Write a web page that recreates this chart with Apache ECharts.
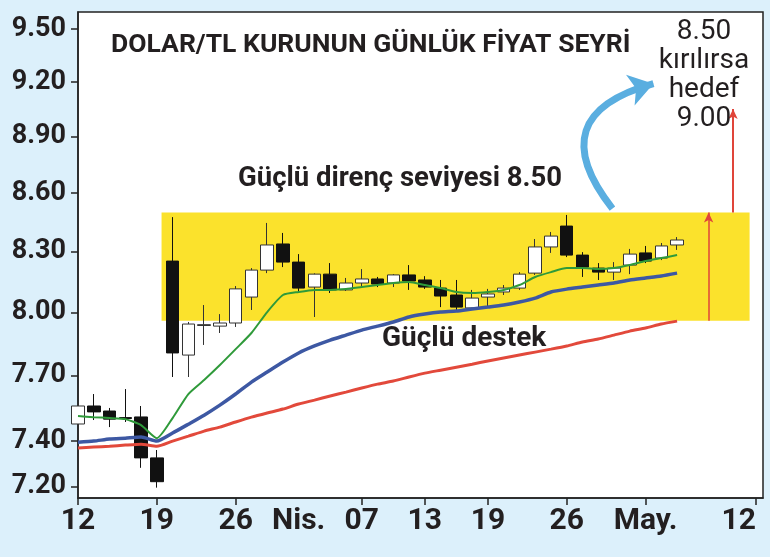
<!DOCTYPE html>
<html><head><meta charset="utf-8">
<script src="https://cdn.jsdelivr.net/npm/echarts@6/dist/echarts.min.js"></script>
<style>html,body{margin:0;padding:0;background:#dcf0fb}#c{width:770px;height:557px}</style>
</head><body><div id="c"></div>
<script>
// trading days (index = position on the x axis)
const dates = ['03-12','03-15','03-16','03-17','03-18','03-19','03-22','03-23','03-24','03-25','03-26',
  '03-29','03-30','03-31','04-01','04-02','04-05','04-06','04-07','04-08','04-09','04-12','04-13',
  '04-14','04-15','04-16','04-19','04-20','04-21','04-22','04-23','04-26','04-27','04-28','04-29',
  '04-30','05-03','05-04','05-05','05-06','05-07','05-10','05-11','05-12'];
const opens  = [7.477,7.559,7.536,7.506,7.509,7.325,8.253,7.796,7.937,7.934,7.949,8.075,8.208,8.339,8.248,8.124,8.188,8.110,8.144,8.164,8.144,8.184,8.159,8.119,8.085,8.022,8.075,8.100,8.119,8.193,8.324,8.430,8.283,8.218,8.198,8.233,8.294,8.268,8.334];
const closes = [7.559,7.532,7.499,7.502,7.325,7.220,7.806,7.944,7.941,7.949,8.115,8.208,8.334,8.248,8.119,8.188,8.110,8.144,8.164,8.139,8.184,8.154,8.124,8.080,8.026,8.070,8.090,8.119,8.188,8.324,8.379,8.283,8.223,8.198,8.218,8.288,8.253,8.329,8.359];
const lows   = [7.470,7.495,7.463,7.486,7.281,7.194,7.693,7.693,7.844,7.901,7.930,8.012,8.193,8.223,8.100,7.978,8.095,8.105,8.129,8.124,8.124,8.110,8.115,8.026,8.012,8.012,8.026,8.085,8.110,8.184,8.294,8.273,8.174,8.159,8.159,8.188,8.243,8.258,8.309];
const highs  = [7.565,7.614,7.550,7.637,7.559,7.360,8.476,7.954,8.036,7.992,8.129,8.218,8.446,8.395,8.288,8.192,8.243,8.169,8.213,8.174,8.188,8.233,8.178,8.159,8.159,8.110,8.115,8.134,8.198,8.364,8.400,8.487,8.298,8.243,8.248,8.314,8.329,8.344,8.374];
const maGreen = [7.513,7.508,7.504,7.499,7.472,7.413,7.504,7.614,7.679,7.749,7.824,7.901,8.002,8.085,8.100,8.110,8.110,8.114,8.124,8.134,8.144,8.149,8.134,8.119,8.100,8.095,8.100,8.110,8.134,8.174,8.198,8.218,8.218,8.213,8.218,8.233,8.253,8.268,8.283];
const maBlue  = [7.395,7.400,7.409,7.413,7.418,7.400,7.436,7.476,7.517,7.563,7.614,7.669,7.716,7.763,7.806,7.839,7.867,7.891,7.915,7.934,7.954,7.978,7.992,8.002,8.007,8.017,8.026,8.036,8.051,8.070,8.100,8.114,8.124,8.134,8.144,8.159,8.169,8.179,8.193];
const maRed   = [7.369,7.373,7.377,7.382,7.386,7.377,7.400,7.422,7.445,7.463,7.486,7.508,7.527,7.545,7.568,7.586,7.605,7.623,7.642,7.660,7.674,7.693,7.711,7.725,7.739,7.753,7.768,7.782,7.796,7.810,7.824,7.839,7.858,7.872,7.891,7.910,7.925,7.944,7.958];
const yTicks = [7.20,7.40,7.70,8.00,8.30,8.60,8.90,9.20,9.50];
const xLabelDates = {'03-12':'12','03-19':'19','03-26':'26','04-01':'Nis.','04-07':'07','04-13':'13','04-19':'19','04-26':'26','05-03':'May.','05-12':'12'};
const xNoTick = ['04-01'];
const resistance = 8.50, bandLow = 7.96, target = 9.00, arrowTip = 9.05;
const bandFrom = 5.3, bandTo = 42.6;          // trading-day index span of the band
const arrow1X = 40, arrow2X = 41.55;
const curveFrom = [33.9, 8.52], curveTo = [36.5, 9.19];

const FONT = "Roboto,'Noto Sans',sans-serif";
const INK = '#231f20';

const xLabelIdx = dates.map((d,i)=>xLabelDates[d]!==undefined?i:-1).filter(i=>i>=0);
const xTickIdx = xLabelIdx.filter(i=>xNoTick.indexOf(dates[i])<0);
const candles = opens.map((o,i)=>[i,o,closes[i],lows[i],highs[i]]);
const toXY = arr => arr.map((v,i)=>[i,v]);

const chart = echarts.init(document.getElementById('c'));
chart.setOption({
  backgroundColor:'#dcf0fb',
  animation:false,
  title:{text:'DOLAR/TL KURUNUN GÜNLÜK FİYAT SEYRİ',left:106,top:27,
    textStyle:{fontFamily:FONT,fontWeight:'bold',fontSize:26.5,color:INK}},
  grid:{left:78,right:7,top:12,bottom:59,show:true,backgroundColor:'#ffffff',borderColor:'#222',borderWidth:1.5,outerBoundsMode:'none'},
  xAxis:{type:'value',min:0,max:43.45,
    axisLine:{lineStyle:{color:'#222',width:1.5}},
    axisTick:{show:true,length:7,customValues:xTickIdx,lineStyle:{color:'#222',width:1.5}},
    splitLine:{show:false},
    axisLabel:{customValues:xLabelIdx,formatter:v=>xLabelDates[dates[Math.round(v)]]||'',
      alignMaxLabel:'right',
      fontFamily:FONT,fontWeight:'bold',fontSize:30,color:INK,margin:8}},
  yAxis:{type:'log',logBase:10,min:7.149,max:9.598,
    axisLine:{lineStyle:{color:'#222',width:1.5}},
    axisTick:{show:true,length:7,customValues:yTicks,lineStyle:{color:'#222',width:1.5}},
    splitLine:{show:false},minorTick:{show:false},
    axisLabel:{customValues:yTicks,formatter:v=>Number(v).toFixed(2),
      fontFamily:FONT,fontWeight:'bold',fontSize:27,color:INK,margin:12}},
  series:[
    {type:'candlestick',data:candles,encode:{x:0,y:[1,2,3,4]},barWidth:13,z:2,clip:true,
      itemStyle:{color:'#ffffff',color0:'#111111',borderColor:'#333333',borderColor0:'#111111',borderWidth:1},
      markArea:{silent:true,itemStyle:{color:'#fbe22c'},
        data:[[{coord:[bandFrom,resistance]},{coord:[bandTo,bandLow]}]]},
      markLine:{silent:true,label:{show:false},animation:false,
        data:[
          [{coord:[arrow1X,bandLow],symbol:'none'},{coord:[arrow1X,resistance],symbol:'arrow',symbolSize:[7,10],
            lineStyle:{color:'#e0453a',width:1.5,type:'solid'}}],
          [{coord:[arrow2X,resistance],symbol:'none'},{coord:[arrow2X,arrowTip],symbol:'arrow',symbolSize:[7,10],
            lineStyle:{color:'#e0453a',width:2,type:'solid'}}]
        ]}},
    {type:'line',data:toXY(maRed),showSymbol:false,smooth:0.2,z:3,lineStyle:{color:'#e2493b',width:3}},
    {type:'line',data:toXY(maBlue),showSymbol:false,smooth:0.2,z:3,lineStyle:{color:'#3d58a3',width:3.5}},
    {type:'line',data:toXY(maGreen),showSymbol:false,smooth:0.2,z:4,lineStyle:{color:'#2f9a3a',width:2}},
    {type:'lines',coordinateSystem:'cartesian2d',z:6,silent:true,
      symbol:['none','arrow'],symbolSize:24,
      lineStyle:{color:'#5aaee0',width:7,curveness:0.75,opacity:1},
      data:[{coords:[curveFrom,curveTo]}]}
  ],
  graphic:[
    {type:'text',left:238,top:165,z:10,style:{text:'Güçlü direnç seviyesi 8.50',font:"bold 27.5px "+FONT,fill:INK}},
    {type:'text',left:382,top:325,z:10,style:{text:'Güçlü destek',font:"bold 28px "+FONT,fill:INK}},
    {type:'text',x:704,y:17,z:10,style:{text:'8.50\nkırılırsa\nhedef\n9.00',font:"28px "+FONT,fill:INK,align:'center',verticalAlign:'top',lineHeight:29}}
  ]
});
</script></body></html>
